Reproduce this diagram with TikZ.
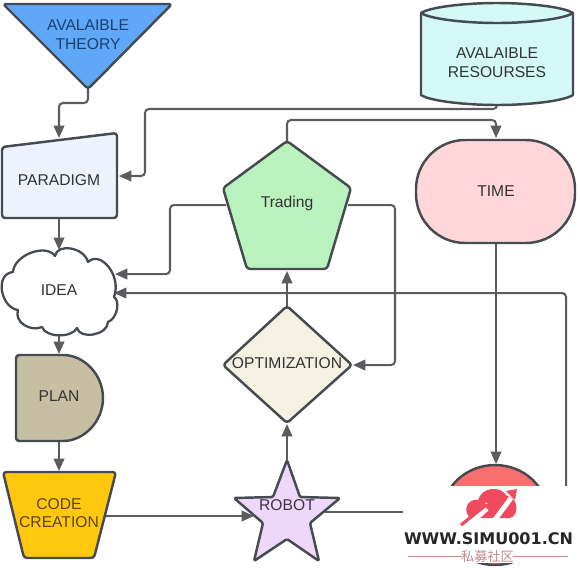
\documentclass[tikz,border=0pt]{standalone}
\usepackage{fontspec}
\setmainfont{Liberation Sans}
\newfontfamily\wmfont{DejaVu Sans}
\newfontfamily\cjkfont{Noto Sans CJK SC}
\usetikzlibrary{arrows.meta}
\definecolor{edgeC}{HTML}{5C5C60}
\definecolor{lineC}{HTML}{454B50}
\definecolor{theoryF}{HTML}{5FA8F8}
\definecolor{theoryT}{HTML}{1C4170}
\definecolor{paraF}{HTML}{EDF3FC}
\definecolor{planF}{HTML}{C6BFA3}
\definecolor{codeF}{HTML}{FFC80F}
\definecolor{codeT}{HTML}{5A4510}
\definecolor{starF}{HTML}{EED8FA}
\definecolor{starT}{HTML}{3E3344}
\definecolor{optF}{HTML}{F4F0E2}
\definecolor{tradeF}{HTML}{B9F2BD}
\definecolor{timeF}{HTML}{FFD7DA}
\definecolor{cylF}{HTML}{D3F8F5}
\definecolor{redF}{HTML}{F86F70}
\definecolor{logoF}{HTML}{EF4A5E}
\definecolor{wmLine}{HTML}{C58A8E}
\tikzset{
  x=0.02cm,y=-0.02cm,
  conn/.style={draw=edgeC,line width=1.15pt,rounded corners=2.2pt},
  arr/.style={conn,-{Triangle[length=7pt,width=6pt]}},
  shp/.style={draw=lineC,line width=1.4pt,rounded corners=1.8pt,line join=round},
  lab/.style={font=\fontsize{8.9}{10.7}\selectfont,align=center,inner sep=0pt,text=#1},
  lab/.default={black!80}
}
\begin{document}
\begin{tikzpicture}
\useasboundingbox (0,0) rectangle (580,569);
\fill[white] (0,0) rectangle (580,569);
% ports
\coordinate (thS) at (88,89);
\coordinate (paN) at (59,138);
\coordinate (paE) at (119,176);
\coordinate (paS) at (59,218);
\coordinate (idN) at (59,250);
\coordinate (idE1) at (115,274);
\coordinate (idE2) at (114,293);
\coordinate (idS) at (59,335);
\coordinate (plN) at (59,354);
\coordinate (plS) at (59,441);
\coordinate (coN) at (59,471);
\coordinate (coE) at (105,516);
\coordinate (roW) at (254,516);
\coordinate (roN) at (287,460);
\coordinate (roE) at (325,512);
\coordinate (opS) at (287,424);
\coordinate (opN) at (287,306);
\coordinate (opE) at (353,365);
\coordinate (trS) at (287,271);
\coordinate (trN) at (287,141);
\coordinate (trW) at (226,205);
\coordinate (trE) at (348,205);
\coordinate (tiN) at (496,138);
\coordinate (tiS) at (496,243);
\coordinate (cyS) at (497,104);
\coordinate (ciN) at (496,464);
\coordinate (ciW) at (442,512);
\coordinate (ciE) at (548,515);
% connectors
\draw[arr] (thS) -- (88,103) -- (59,103) -- (paN);
\draw[arr] (cyS) -- (497,109) -- (145,109) -- (145,176) -- (paE);
\draw[arr] (paS) -- (idN);
\draw[arr] (trW) -- (170,205) -- (170,274) -- (idE1);
\draw[arr] (ciE) -- (566,515) -- (566,293) -- (idE2);
\draw[arr] (idS) -- (plN);
\draw[arr] (plS) -- (coN);
\draw[arr] (coE) -- (roW);
\draw[arr] (roN) -- (opS);
\draw[arr] (opN) -- (trS);
\draw[arr] (trE) -- (395,205) -- (395,365) -- (opE);
\draw[arr] (trN) -- (287,120) -- (496,120) -- (tiN);
\draw[arr] (tiS) -- (ciN);
\draw[conn] (roE) -- (ciW);
% shapes
\draw[shp,fill=theoryF] (3,4) -- (172,4) -- (88,89) -- cycle;
\node[lab=theoryT] (theory) at (88,35) {AVALAIBLE\\THEORY};
\draw[shp,fill=paraF] (2,147) -- (117,133) -- (117,218) -- (2,218) -- cycle;
\node[lab] (paradigm) at (59,180.5) {PARADIGM};
\draw[line width=1.3pt,draw=lineC,fill=white,line join=round] (13,272)
  .. controls (14,255) and (46,243) .. (55,256)
  .. controls (57,243) and (84,247) .. (88,262)
  .. controls (100,250) and (122,275) .. (114,297)
  .. controls (120,300) and (118,318) .. (108,322)
  .. controls (108,335) and (80,340) .. (77,328)
  .. controls (72,338) and (46,338) .. (42,327)
  .. controls (30,332) and (14,322) .. (18,310)
  .. controls (1,308) and (-6,274) .. (13,272) -- cycle;
\node[lab] (idea) at (59,290) {IDEA};
\draw[shp,fill=planF] (16,355) -- (60,355) arc[start angle=90,end angle=-90,radius=0.86cm] -- (16,441) -- cycle;
\node[lab] (plan) at (59,396.5) {PLAN};
\draw[shp,fill=codeF] (3,472) -- (116,472) -- (94,558) -- (24,558) -- cycle;
\node[lab=codeT] (code) at (59,513) {CODE\\CREATION};
\draw[shp,rounded corners=0.8pt,fill=starF] (287,460) -- (300,497) -- (340,498) -- (310,523) -- (319,561) -- (287,539) -- (254,561) -- (263,523) -- (234,498) -- (273,497) -- cycle;
\node[lab=starT] (robot) at (287,505.5) {ROBOT};
\draw[shp,fill=optF] (287,306) -- (352,365) -- (287,423) -- (223,365) -- cycle;
\node[lab] (opt) at (287,363.5) {OPTIMIZATION};
\draw[shp,fill=tradeF] (287,141) -- (351,188) -- (327,269) -- (247,269) -- (223,188) -- cycle;
\node[lab] (trading) at (287,203) {Trading};
\draw[shp,rounded corners=28pt,fill=timeF] (416,140) rectangle (575,243);
\node[lab] (time) at (496,191) {TIME};
\draw[shp,rounded corners=0pt,fill=cylF] (421,13) -- (421,95) .. controls (430,101) and (465,105) .. (497,105) .. controls (529,105) and (564,101) .. (573,95) -- (573,13) .. controls (564,7) and (529,3) .. (497,3) .. controls (465,3) and (430,7) .. (421,13) -- cycle;
\draw[shp,rounded corners=0pt] (421,13) .. controls (430,19) and (465,23) .. (497,23) .. controls (529,23) and (564,19) .. (573,13);
\node[lab] (res) at (497,62.5) {AVALAIBLE\\RESOURSES};
\draw[shp,fill=redF] (495,515) ellipse[x radius=1.06cm,y radius=1cm];
% watermark
\fill[white] (403,486) rectangle (580,563);
\fill[logoF] (470,518) .. controls (462,510) and (468,498) .. (478,500) .. controls (482,487) and (500,485) .. (507,496) .. controls (518,497) and (520,515) .. (510,518) -- cycle;
\draw[white,line width=4.2pt] (468,524) -- (489,505);
\draw[white,line width=2.8pt] (494,521) -- (511,498);
\draw[logoF,line width=1.8pt] (461,525) -- (486,505);
\fill[logoF] (493,503) -- (483,504) -- (491,513) -- cycle;
\fill[white] (504,489) -- (519,487) -- (517,503) -- cycle;
\fill[logoF] (517,489) -- (506,491) -- (515,500) -- cycle;
\node[inner sep=0pt,text=black!85] (wm) at (488.5,539) {\resizebox{3.38cm}{!}{\wmfont\bfseries WWW.SIMU001.CN}};
\node[inner sep=0pt,text=wmLine,font=\cjkfont\fontsize{7.5}{8}\selectfont] (wmc) at (487.5,556) {私募社区};
\draw[wmLine,line width=0.6pt] (408,556.5) -- (462,556.5);
\draw[wmLine,line width=0.6pt] (513,556.5) -- (568,556.5);
\end{tikzpicture}
\end{document}
